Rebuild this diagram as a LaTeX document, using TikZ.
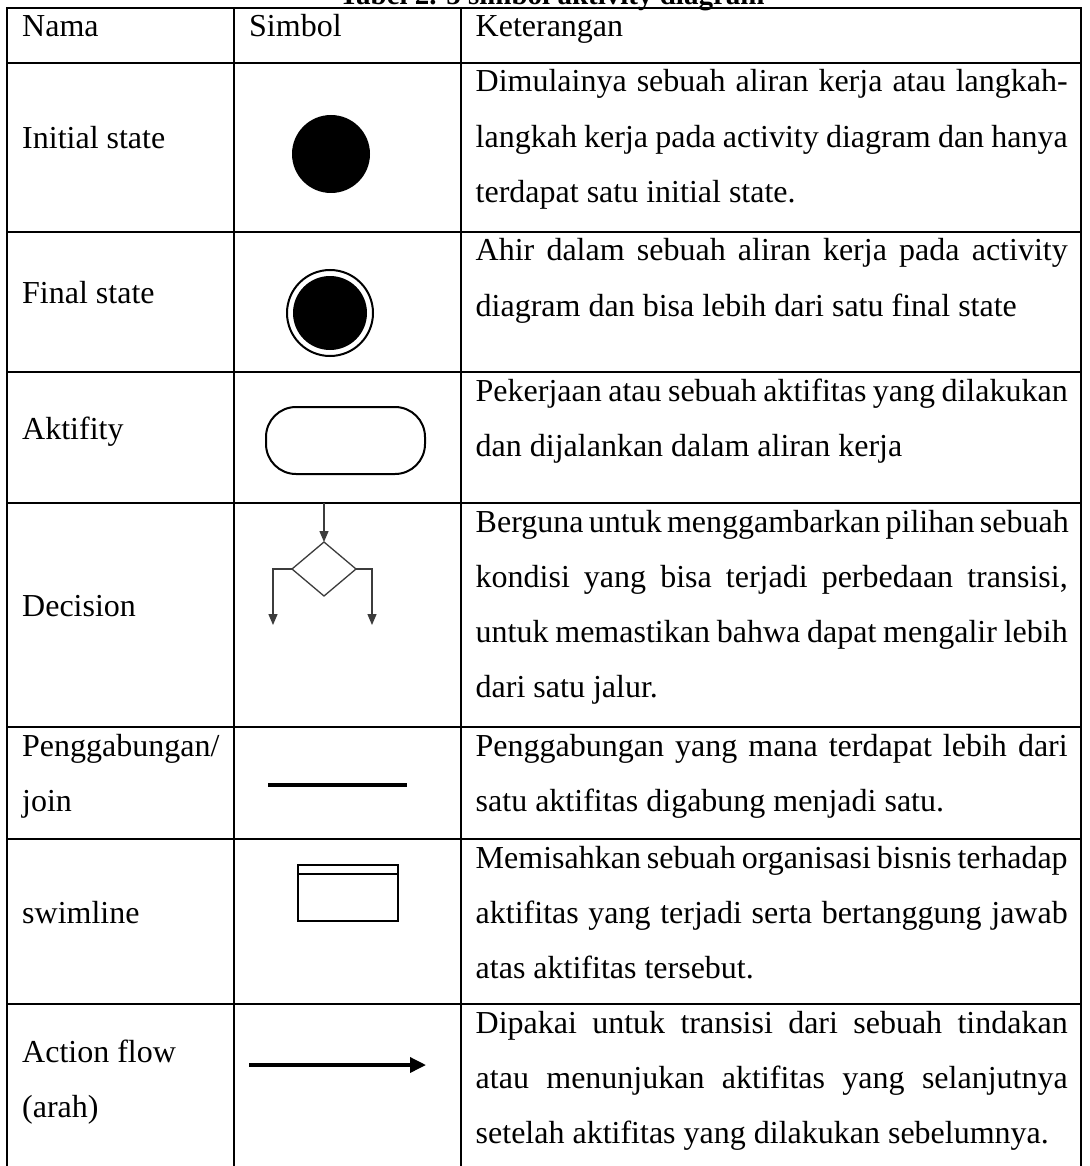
\documentclass[tikz,border=0pt]{standalone}
\usepackage{fontspec}
\setmainfont[Ligatures={NoCommon}]{Liberation Serif}
\usetikzlibrary{arrows.meta}
\definecolor{decgray}{RGB}{60,60,60}
\newcommand\justline[1]{\makebox[592pt][s]{#1}}
\tikzset{
  txt/.style={font=\fontsize{32}{55}\selectfont, inner sep=0pt, anchor=base west},
  grid/.style={line width=2pt, line cap=rect},
  sym/.style={line width=2pt},
  dec/.style={line width=1.3pt, draw=decgray},
  dectip/.style={-{Triangle[length=11pt,width=9pt]}},
}
\begin{document}
\begin{tikzpicture}[x=1pt,y=-1pt]
\useasboundingbox (0,0) rectangle (1089,1166);
\clip (0,0) rectangle (1089,1166);
\fill[white] (0,0) rectangle (1089,1166);

% title (cut off at the top)
\node[font=\bfseries\fontsize{29}{29}\selectfont, inner sep=0pt, anchor=base] (title) at (552,5) {Tabel 2. 5 simbol aktivity diagram};

% header
\node[txt] (h1) at (22,37) {Nama};
\node[txt] (h2) at (249,37) {Simbol};
\node[txt] (h3) at (475.5,37) {Keterangan};

% names
\node[txt] (n1) at (22,149) {Initial state};
\node[txt] (n2) at (22,303) {Final state};
\node[txt] (n3) at (22,439) {Aktifity};
\node[txt] (n4) at (22,616) {Decision};
\node[txt] (n5a) at (22,756) {Penggabungan/};
\node[txt] (n5b) at (22,811) {join};
\node[txt] (n6) at (22,923) {swimline};
\node[txt] (n7a) at (22,1062) {Action flow};
\node[txt] (n7b) at (22,1117) {(arah)};

% descriptions
\node[txt] (d1a) at (475.5,92) {\justline{Dimulainya sebuah aliran kerja atau langkah-}};
\node[txt] (d1b) at (475.5,147.2) {\justline{langkah kerja pada activity diagram dan hanya}};
\node[txt] (d1c) at (475.5,202.4) {terdapat satu initial state.};

\node[txt] (d2a) at (475.5,261) {\justline{Ahir dalam sebuah aliran kerja pada activity}};
\node[txt] (d2b) at (475.5,316.2) {diagram dan bisa lebih dari satu final state};

\node[txt] (d3a) at (475.5,401) {\justline{Pekerjaan atau sebuah aktifitas yang dilakukan}};
\node[txt] (d3b) at (475.5,456.2) {dan dijalankan dalam aliran kerja};

\node[txt] (d4a) at (475.5,532) {\justline{Berguna untuk menggambarkan pilihan sebuah}};
\node[txt] (d4b) at (475.5,587.2) {\justline{kondisi yang bisa terjadi perbedaan transisi,}};
\node[txt] (d4c) at (475.5,642.4) {\justline{untuk memastikan bahwa dapat mengalir lebih}};
\node[txt] (d4d) at (475.5,697.6) {dari satu jalur.};

\node[txt] (d5a) at (475.5,756) {\justline{Penggabungan yang mana terdapat lebih dari}};
\node[txt] (d5b) at (475.5,811.2) {satu aktifitas digabung menjadi satu.};

\node[txt] (d6a) at (475.5,868) {\justline{Memisahkan sebuah organisasi bisnis terhadap}};
\node[txt] (d6b) at (475.5,923.2) {\justline{aktifitas yang terjadi serta bertanggung jawab}};
\node[txt] (d6c) at (475.5,978.4) {atas aktifitas tersebut.};

\node[txt] (d7a) at (475.5,1033) {\justline{Dipakai untuk transisi dari sebuah tindakan}};
\node[txt] (d7b) at (475.5,1088.2) {\justline{atau menunjukan aktifitas yang selanjutnya}};
\node[txt] (d7c) at (475.5,1143.4) {setelah aktifitas yang dilakukan sebelumnya.};

% table grid
\foreach \yy in {8,63,232,372,503,727,839,1004}
  \draw[grid] (7,\yy) -- (1081,\yy);
\foreach \xx in {7,234,461,1081}
  \draw[grid] (\xx,8) -- (\xx,1180);

% initial state
\fill (331,154) circle (39);

% final state
\draw[sym] (330,313) circle (43);
\fill (330,313) circle (37);

% activity
\draw[sym, rounded corners=30pt] (266,407) rectangle (425,474);

% decision
\coordinate (dt) at (324,542);
\coordinate (dr) at (356,569);
\coordinate (db) at (324,596);
\coordinate (dl) at (292,569);
\coordinate (din) at (324,503);
\coordinate (dlend) at (273,625);
\coordinate (drend) at (372,625);
\draw[dec] (dt) -- (dr) -- (db) -- (dl) -- cycle;
\draw[dec, dectip] (din) -- (dt);
\draw[dec, dectip] (dl) -| (dlend);
\draw[dec, dectip] (dr) -| (drend);

% join
\coordinate (ja) at (268,785);
\coordinate (jb) at (407,785);
\draw[line width=4pt] (ja) -- (jb);

% swimline
\draw[sym] (298,865) rectangle (398,921);
\draw[sym] (298,874) -- (398,874);

% action flow
\coordinate (aa) at (249,1065);
\coordinate (ab) at (426,1065);
\draw[line width=3.5pt, -{Triangle[length=16pt,width=15pt]}] (aa) -- (ab);
\end{tikzpicture}
\end{document}
